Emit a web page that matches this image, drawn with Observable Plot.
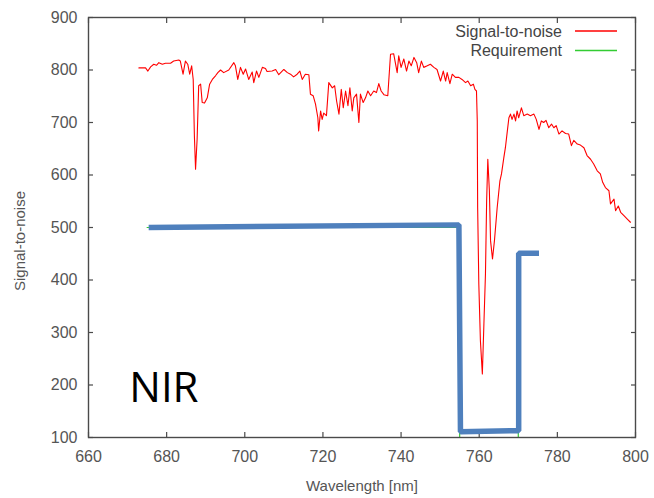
<!DOCTYPE html>
<html><head><meta charset="utf-8">
<script src="https://cdn.jsdelivr.net/npm/d3@7"></script>
<script src="https://cdn.jsdelivr.net/npm/@observablehq/plot@0.6"></script>
<style>body{margin:0;background:#fff} #chart svg{display:block}</style>
</head><body><div id="chart"></div>
<script>
// Signal-to-noise curve (wavelength nm, S/N)
const wavelength = [672.9,674.6,675.2,675.9,676.7,677.4,678.0,678.9,679.7,681.0,681.8,683.1,683.5,684.2,684.8,685.4,685.9,686.4,686.8,687.1,687.4,687.8,688.2,688.7,689.1,689.7,690.4,691.0,691.7,692.5,693.1,693.8,694.6,695.9,697.2,697.6,698.2,698.9,699.6,700.2,701.0,701.9,702.3,703.0,703.6,704.5,705.3,705.7,707.0,707.9,708.7,710.0,710.9,711.7,712.5,713.4,714.1,714.7,715.5,716.4,716.8,717.5,718.1,718.7,718.9,719.4,719.8,720.2,720.9,721.5,722.4,723.0,723.5,724.1,724.7,725.2,725.8,726.4,726.9,727.5,727.9,728.6,729.2,729.6,730.3,730.9,731.5,732.2,733.0,733.7,734.3,734.9,735.6,736.6,737.3,738.1,739.0,739.4,740.0,740.7,741.4,742.0,742.6,743.3,744.0,744.5,745.2,745.8,746.7,747.5,748.4,749.2,750.1,750.8,751.4,751.8,752.5,753.1,753.9,754.8,755.6,756.5,757.1,757.8,758.5,758.9,759.3,759.5,759.6,759.9,760.3,760.8,761.2,761.6,761.9,762.2,762.6,762.9,763.4,763.9,764.6,765.3,765.7,766.3,766.7,767.2,767.6,768.0,768.4,768.9,769.3,769.7,770.1,770.8,771.4,772.3,773.1,774.0,774.6,775.3,775.9,776.5,777.1,777.8,778.5,779.1,779.7,780.4,781.2,782.1,782.9,783.6,784.2,785.1,785.9,786.8,787.6,788.5,789.3,790.2,791.0,791.6,792.3,793.2,793.6,794.5,794.9,795.6,796.2,797.1,797.9,798.7];
const snr = [804,804,798,806,811,809,814,811,813,813,817,819,817,792,817,811,792,808,782,675,611,668,770,773,738,737,747,773,782,789,795,800,795,800,814,808,782,805,792,802,782,796,776,798,786,805,803,797,798,801,791,801,795,792,787,792,798,782,792,791,754,751,735,709,684,722,706,718,713,776,766,770,741,716,763,728,760,732,766,722,747,754,700,754,738,747,760,751,760,757,774,760,753,751,830,831,795,827,805,821,798,817,808,824,814,795,817,805,808,811,805,801,779,798,779,795,774,792,786,786,782,776,779,770,773,763,760,703,538,392,285,221,316,412,551,630,570,475,440,475,538,589,602,633,652,684,709,716,706,716,703,722,709,728,713,716,713,716,706,687,703,700,704,690,697,690,694,678,684,679,678,656,666,659,657,652,637,630,621,608,602,586,576,570,545,554,532,541,529,522,516,510];

// Requirement (gnuplot series) and the hand-drawn overlay
const reqWavelength = [675, 755, 755, 770, 770, 775];
const reqValue = [500, 500, 100, 100, 450, 450];
const overlayWavelength = [675.4, 754.8, 755.2, 770.1, 770.1, 775.3];
const overlayValue = [500, 505, 111, 113, 451, 451];

const xTicks = [660, 680, 700, 720, 740, 760, 780, 800];
const yTicks = [100, 200, 300, 400, 500, 600, 700, 800, 900];
const legendLabels = ["Signal-to-noise", "Requirement"];
const legendColors = ["#ff0000", "#33cc33"];
const nirText = ["NIR"];
const nirWavelength = [679.3];
const nirValue = [193];
const xLabel = "Wavelength [nm]";
const yLabel = "Signal-to-noise";

const snrData = wavelength.map((w, i) => ({w, v: snr[i]}));
const reqData = reqWavelength.map((w, i) => ({w, v: reqValue[i]}));
const overlayData = overlayWavelength.map((w, i) => ({w, v: overlayValue[i]}));
const nirData = nirText.map((t, i) => ({t, w: nirWavelength[i], v: nirValue[i]}));

const axisColor = "#4a4a4a";
const tickStyle = {tickFormat: () => "", label: null, stroke: axisColor, strokeWidth: 1.2};

const plot = Plot.plot({
  width: 654,
  height: 498,
  marginLeft: 88,
  marginRight: 19,
  marginTop: 17,
  marginBottom: 61,
  style: {fontFamily: "'Liberation Sans', Arial, sans-serif", fontSize: "16px", color: axisColor, background: "#fff"},
  x: {domain: [660, 800], ticks: xTicks, label: null},
  y: {domain: [100, 900], ticks: yTicks, label: null},
  marks: [
    Plot.axisX({anchor: "bottom", ticks: xTicks, tickSize: 0, tickPadding: 13, label: null, fill: "#555"}),
    Plot.axisY({anchor: "left", ticks: yTicks, tickSize: 0, tickPadding: 11, label: null, fill: "#555"}),
    Plot.axisX({anchor: "bottom", ticks: xTicks, tickSize: 5, dy: -5, ...tickStyle}),
    Plot.axisX({anchor: "top", ticks: xTicks, tickSize: 5, dy: 5, ...tickStyle}),
    Plot.axisY({anchor: "left", ticks: yTicks, tickSize: 5, dx: 5, ...tickStyle}),
    Plot.axisY({anchor: "right", ticks: yTicks, tickSize: 5, dx: -5, ...tickStyle}),
    Plot.line(snrData, {x: "w", y: "v", stroke: legendColors[0], strokeWidth: 1.1}),
    Plot.line(reqData, {x: "w", y: "v", stroke: legendColors[1], strokeWidth: 1.2}),
    Plot.line(overlayData, {x: "w", y: "v", stroke: "#4f80bd", strokeWidth: 5.5, strokeLinejoin: "miter", strokeLinecap: "butt"}),
    Plot.frame({stroke: axisColor, strokeWidth: 1.4}),
    Plot.text(nirData, {x: "w", y: "v", text: "t", fontSize: 42, fontFamily: "'Open Sans', sans-serif", fill: "#000"}),
    Plot.text([xLabel], {frameAnchor: "bottom", dy: 53, fontSize: 15, fill: "#555"})
  ]
});

const svg = d3.select(plot);
// rotated y-axis title
svg.append("text")
  .attr("transform", "translate(20,241) rotate(-90)")
  .attr("text-anchor", "middle").attr("dy", "0.35em")
  .attr("font-family", "'Liberation Sans', Arial, sans-serif").attr("font-size", 15)
  .attr("fill", "#555").text(yLabel);

// legend (top-right, inside frame)
const lg = svg.append("g").attr("font-family", "'Liberation Sans', Arial, sans-serif").attr("font-size", 16);
legendLabels.forEach((lab, i) => {
  const y = 31 + i * 19.5;
  lg.append("text").attr("x", 562).attr("y", y).attr("dy", "0.35em").attr("text-anchor", "end").attr("fill", "#444").text(lab);
  lg.append("line").attr("x1", 575).attr("x2", 617).attr("y1", y).attr("y2", y).attr("stroke", legendColors[i]).attr("stroke-width", 1.3);
});

document.getElementById("chart").appendChild(plot);
</script>
</body></html>
